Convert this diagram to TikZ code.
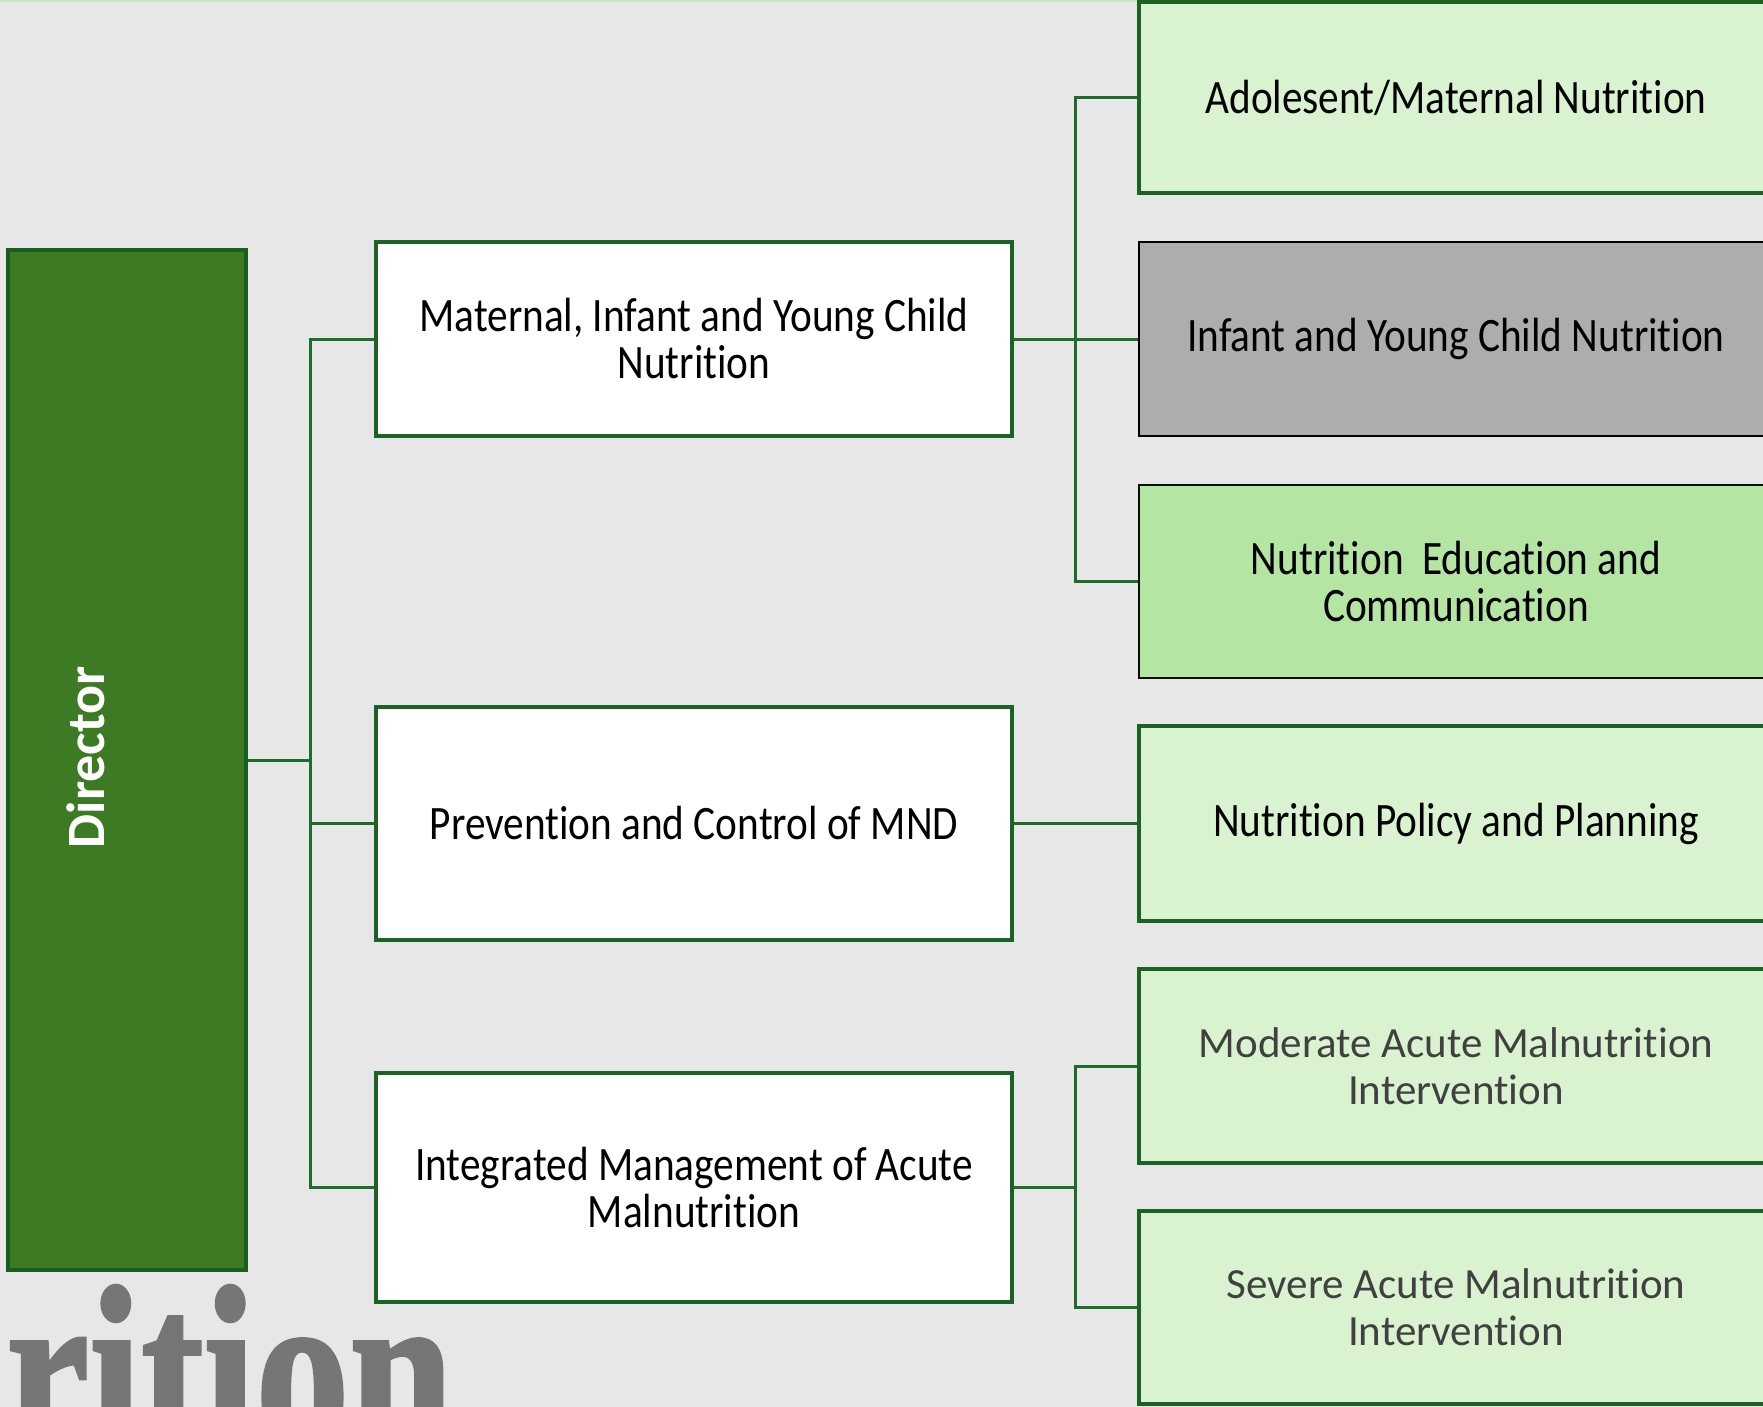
\documentclass[tikz,border=0pt]{standalone}
\usepackage{fontspec}
\setmainfont[Ligatures=NoCommon]{Carlito}
\newfontfamily\narrowf[FakeStretch=0.86,Ligatures=NoCommon]{Carlito}
\newfontfamily\bigserif[FakeBold=1.5]{Liberation Serif}
\definecolor{bgc}{HTML}{E7E7E7}
\definecolor{dirfill}{HTML}{3C7B24}
\definecolor{dirdraw}{HTML}{1A5E1F}
\definecolor{conc}{HTML}{1F6B2C}
\definecolor{boxdraw}{HTML}{1B6324}
\definecolor{lightg}{HTML}{D9F2D0}
\definecolor{midg}{HTML}{B4E5A2}
\definecolor{grayf}{HTML}{ADADAD}
\definecolor{graytext}{HTML}{404040}
\definecolor{ritc}{HTML}{767676}
\definecolor{topl}{HTML}{C9E6BC}
\tikzset{
  conn/.style={draw=conc, line width=3pt},
  midbox/.style={draw=boxdraw, line width=4pt, fill=white, minimum width=636pt, align=center, font=\narrowf\fontsize{48}{47}\selectfont},
  rbox/.style={draw=boxdraw, line width=4pt, fill=lightg, minimum width=634pt, align=center, font=\narrowf\fontsize{48}{47}\selectfont},
  rgbox/.style={rbox, font=\fontsize{43}{47}\selectfont, text=graytext},
}
\begin{document}
\begin{tikzpicture}[x=1pt,y=-1pt]
\fill[bgc] (0,0) rectangle (1763,1407);
\useasboundingbox (0,0) rectangle (1763,1407);
\clip (0,0) rectangle (1763,1407);
\draw[topl, line width=2pt] (0,1) -- (1763,1);

% Director
\node[draw=dirdraw, fill=dirfill, line width=4pt, minimum width=238pt, minimum height=1020pt, inner sep=0pt] (dir) at (127,760) {};
\node[rotate=90, text=white, font=\bfseries\fontsize{54}{60}\selectfont, inner sep=0pt] (dirlabel) at (86,757) {Director};

% middle column
\node[midbox, minimum height=194pt] (mA) at (694,339) {Maternal, Infant and Young Child\\Nutrition};
\node[midbox, minimum height=233pt] (mB) at (694,823.5) {Prevention and Control of MND};
\node[midbox, minimum height=229pt] (mC) at (694,1187.5) {Integrated Management of Acute\\Malnutrition};

% right column
\node[rbox, minimum height=191pt] (r1) at (1456,97.5) {Adolesent/Maternal Nutrition};
\node[rbox, fill=grayf, draw=black, line width=2.5pt, minimum height=194pt] (r2) at (1456,339) {Infant and Young Child Nutrition};
\node[rbox, fill=midg, draw=black!85!boxdraw, line width=2.5pt, minimum height=193pt] (r3) at (1456,581.5) {Nutrition\ \ Education and\\Communication};
\node[rbox, minimum height=195pt] (r4) at (1456,823.5) {Nutrition Policy and Planning};
\node[rgbox, minimum height=194pt] (r5) at (1456,1066) {Moderate Acute Malnutrition\\Intervention};
\node[rgbox, minimum height=193pt] (r6) at (1456,1307.5) {Severe Acute Malnutrition\\Intervention};

% trunks
\coordinate (tl) at (310,0);
\coordinate (tr) at (1075,0);

\draw[conn] (dir.east) -- (dir.east -| tl);
\draw[conn] (mA.west) -- (mA.west -| tl) -- (mC.west -| tl) -- (mC.west);
\draw[conn] (mB.west) -- (mB.west -| tl);

\draw[conn] (r1.west) -- (r1.west -| tr) -- (r3.west -| tr) -- (r3.west);
\draw[conn] (mA.east) -- (r2.west);
\draw[conn] (mB.east) -- (r4.west);
\draw[conn] (r5.west) -- (r5.west -| tr) -- (r6.west -| tr) -- (r6.west);
\draw[conn] (mC.east) -- (mC.east -| tr);

% watermark text
\node[anchor=base west, inner sep=0pt, text=ritc, xscale=0.78, font=\bigserif\bfseries\fontsize{240}{240}\selectfont] (rition) at (6,1452) {rition};
\end{tikzpicture}
\end{document}
